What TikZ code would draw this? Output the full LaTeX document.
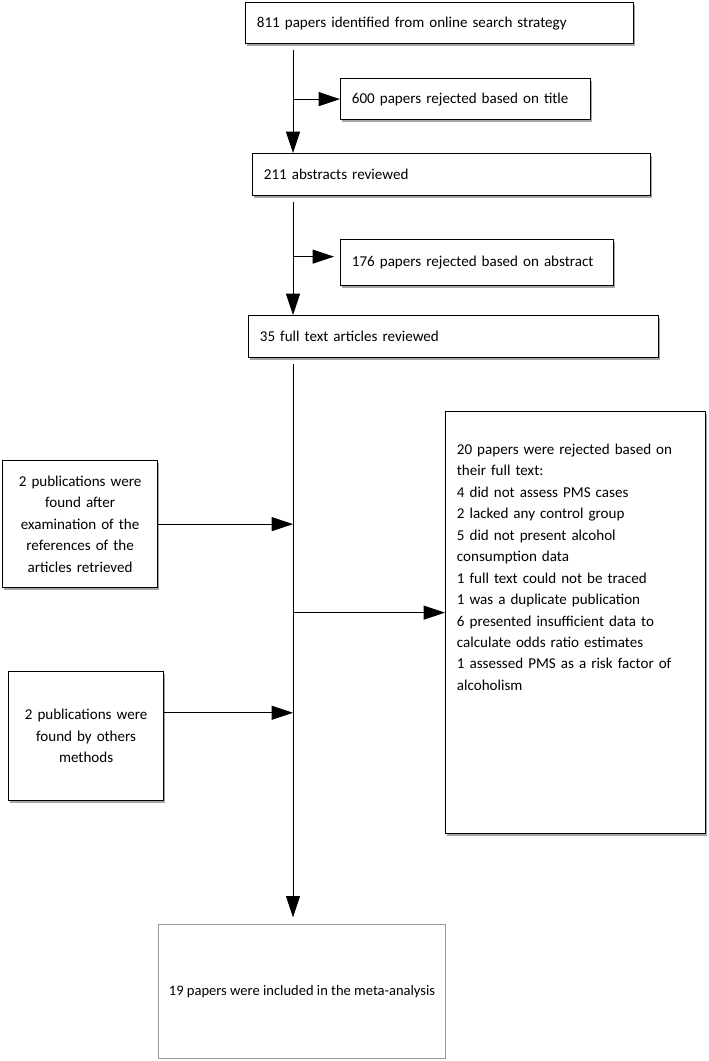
\documentclass[tikz,border=0pt]{standalone}
\usepackage{fontspec}
\setmainfont{Carlito}
\usetikzlibrary{arrows.meta,shadows}

\begin{document}
\begin{tikzpicture}[x=0.75pt,y=-0.75pt,>={Triangle[length=16pt,width=10.5pt]},
    font=\fontsize{11.3}{16.1}\selectfont,
    box/.style={draw,fill=white,line width=0.9pt,anchor=north west,inner xsep=8.5pt,align=left,
        drop shadow={shadow xshift=0.8pt,shadow yshift=-1.5pt,fill=black,opacity=0.35}},
    midbox/.style={box,align=center,inner xsep=4pt},
    link/.style={->,line width=0.7pt}]
    \useasboundingbox (0,0) rectangle (708,1061);

    \node[box,minimum width=291pt,minimum height=30.75pt,text width=274pt] (found) at (245,2) {811 papers identified from online search strategy};
    \node[box,minimum width=187.5pt,minimum height=30.75pt,text width=170.5pt] (title) at (340,78) {600 papers rejected based on title};
    \node[box,minimum width=298.5pt,minimum height=31.5pt,text width=281.5pt] (abstr) at (252,153) {211 abstracts reviewed};
    \node[box,minimum width=204.75pt,minimum height=34.5pt,text width=187.75pt] (rejabs) at (340,239) {176 papers rejected based on abstract};
    \node[box,minimum width=307.5pt,minimum height=31.5pt,text width=290.5pt] (full) at (248,315) {35 full text articles reviewed};

    \node[midbox,text width=108.25pt,minimum height=95.25pt] (refs) at (2,460)
        {2 publications were\\found after\\examination of the\\references of the\\articles retrieved};
    \node[midbox,text width=108.25pt,minimum height=96.75pt] (others) at (8,671)
        {2 publications were\\found by others\\methods};
    \node[box,text width=178pt,text height=24pt,text depth=276.5pt,inner ysep=8pt] (rejfull) at (445,411)
        {20 papers were rejected based on\\their full text:\\4 did not assess PMS cases\\2 lacked any control group\\
         5 did not present alcohol\\consumption data\\1 full text could not be traced\\1 was a duplicate publication\\
         6 presented insufficient data to\\calculate odds ratio estimates\\1 assessed PMS as a risk factor of\\alcoholism};
    \node[draw=gray!80,line width=0.8pt,anchor=north west,minimum width=215.25pt,minimum height=100.5pt,
        font=\fontsize{10.9}{14}\selectfont] (incl) at (158,924)
        {19 papers were included in the meta-analysis};

    % trunk of the flow
    \coordinate (t1) at (293,50);
    \coordinate (t2) at (293,202);
    \coordinate (t3) at (293,364);

    \draw[link] (t1) -- (t1 |- abstr.north);
    \draw[link] (t1 |- title.west) -- (title.west);
    \draw[link] (t2) -- (t2 |- full.north);
    \draw[link] ([yshift=4.5pt]rejabs.west -| t2) -- ([xshift=-4.5pt,yshift=4.5pt]rejabs.west);
    \draw[link,shorten >=5pt] (t3) -- (t3 |- incl.north);
    \draw[link] (refs.east) -- (refs.east -| t3);
    \draw[link] ([yshift=17.5pt]others.east) -- ([yshift=17.5pt]others.east -| t3);
    \draw[link] ([yshift=7.5pt]rejfull.west -| t3) -- ([yshift=7.5pt]rejfull.west);
\end{tikzpicture}
\end{document}
